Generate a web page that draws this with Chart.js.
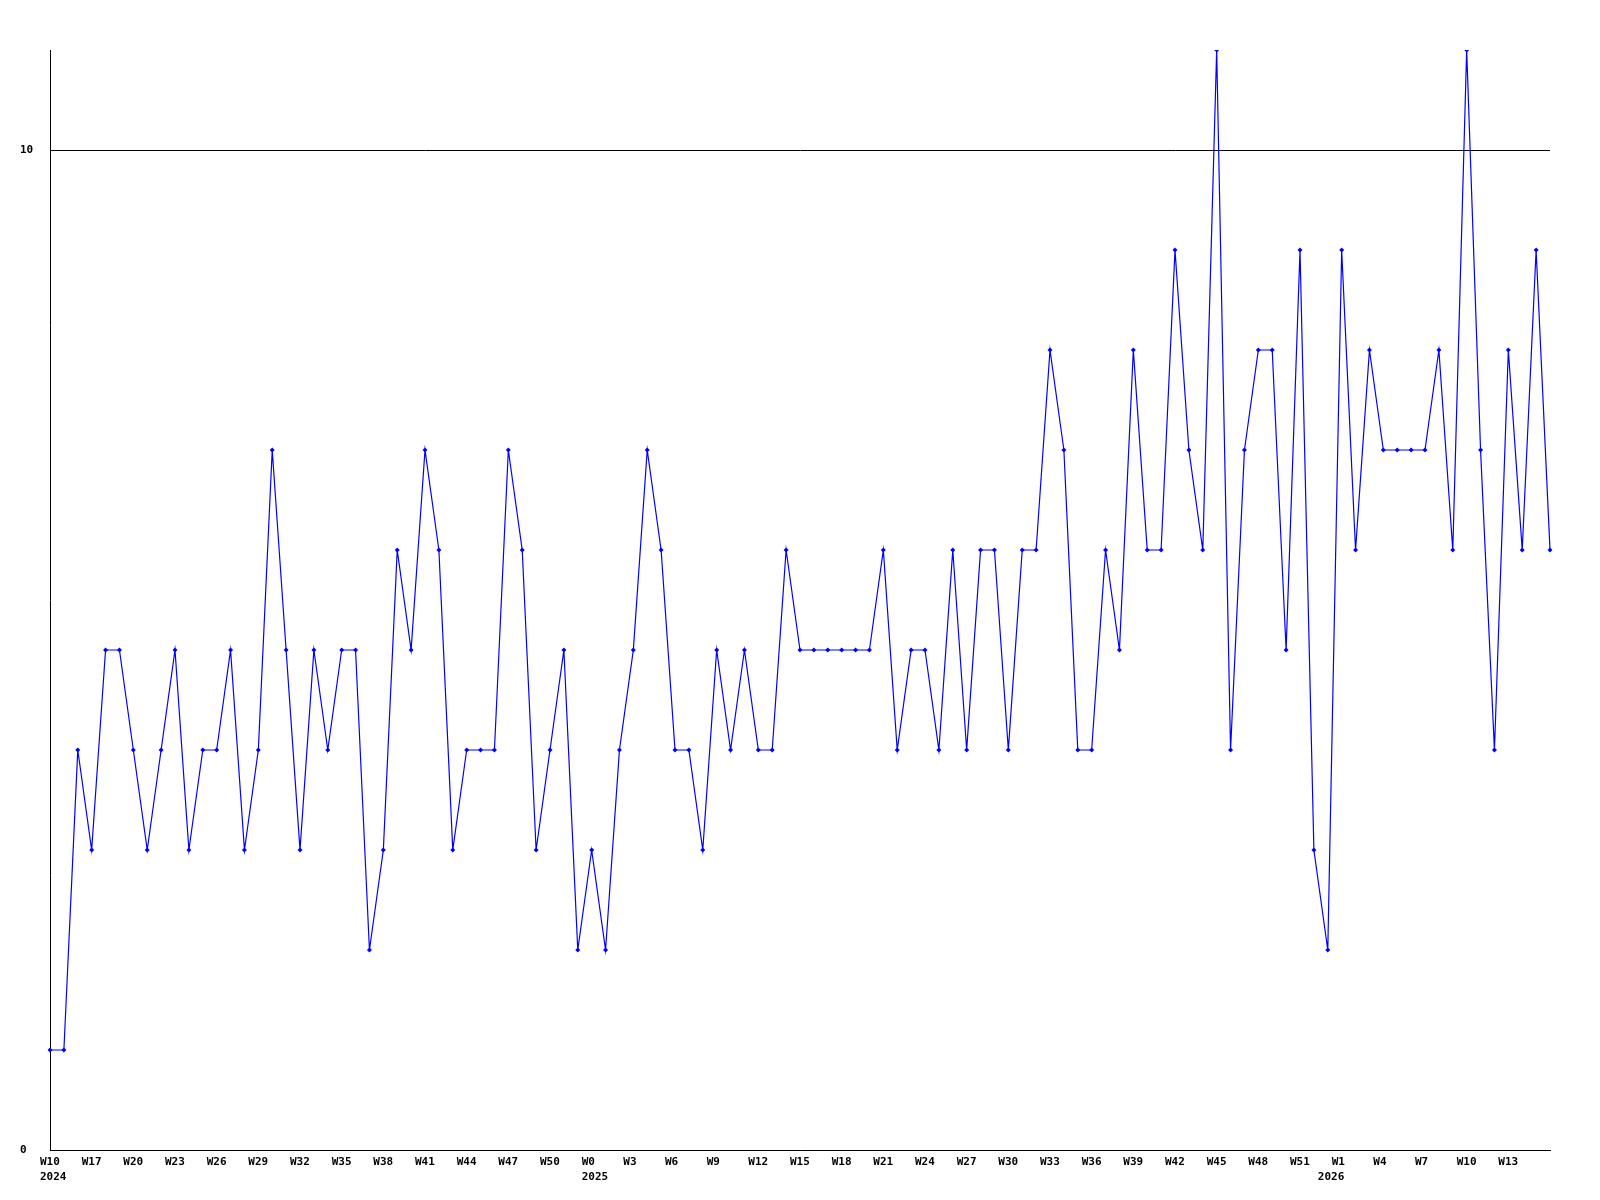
<!DOCTYPE html>
<html>
<head>
<meta charset="utf-8">
<script src="https://cdn.jsdelivr.net/npm/chart.js@4/dist/chart.umd.min.js"></script>
<style>
  html, body { margin: 0; padding: 0; background: #ffffff; }
  #wrap { width: 1600px; height: 1200px; }
</style>
</head>
<body>
<div id="wrap"><canvas id="c" width="1600" height="1200"></canvas></div>
<script>
// Series values, one per week
const values = [
  1,1,4,3,5,5,4,3,4,5,
  3,4,4,5,3,4,7,5,3,5,
  4,5,5,2,3,6,5,7,6,3,
  4,4,4,7,6,3,4,5,2,3,
  2,4,5,7,6,4,4,3,5,4,
  5,4,4,6,5,5,5,5,5,5,
  6,4,5,5,4,6,4,6,6,4,
  6,6,8,7,4,4,6,5,8,6,
  6,9,7,6,11,4,7,8,8,5,
  9,3,2,9,6,8,7,7,7,7,
  8,6,11,7,4,8,6,9,6
];

// Week tick labels and the point index they sit on
const weekTickIndex = [0,3,6,9,12,15,18,21,24,27,30,33,36,39,42,45,48,51,54,57,60,63,66,69,72,75,78,81,84,87,90,93,96,99,102,105];
const weekTickText = ["W10","W17","W20","W23","W26","W29","W32","W35","W38","W41","W44","W47","W50",
  "W0","W3","W6","W9","W12","W15","W18","W21","W24","W27","W30","W33","W36","W39","W42","W45","W48","W51",
  "W1","W4","W7","W10","W13"];

// Year labels and the point index they sit on
const yearTickIndex = [0, 39, 92];
const yearTickText = ["2024", "2025", "2026"];

// Y axis ticks shown
const yTickValues = [0, 10];
const yMin = 0, yMax = 11;

// Build category labels from the arrays above
const labels = values.map((v, i) => {
  const wi = weekTickIndex.indexOf(i);
  const yi = yearTickIndex.indexOf(i);
  const w = wi >= 0 ? weekTickText[wi] : "";
  if (yi >= 0) return [w, yearTickText[yi]];
  return w;
});

const FONT = { family: "'DejaVu Sans Mono', monospace", size: 11, weight: 'bold', lineHeight: 1.4 };

new Chart(document.getElementById('c'), {
  type: 'line',
  data: {
    labels: labels,
    datasets: [{
      data: values,
      borderColor: '#0000ff',
      backgroundColor: '#0000ff',
      borderWidth: 1.2,
      tension: 0,
      fill: false,
      pointStyle: 'rectRot',
      pointRadius: 2.5,
      pointBorderWidth: 0,
      pointBackgroundColor: '#0000ff',
      pointHoverRadius: 2.5
    }]
  },
  options: {
    responsive: false,
    animation: false,
    devicePixelRatio: 1,
    layout: { padding: { left: 20, right: 50, top: 50, bottom: 0 } },
    plugins: { legend: { display: false }, tooltip: { enabled: false }, title: { display: false } },
    scales: {
      x: {
        type: 'category',
        offset: false,
        grid: { display: false, drawTicks: false },
        border: { display: true, color: '#000000', width: 1 },
        ticks: {
          autoSkip: false,
          maxRotation: 0,
          minRotation: 0,
          align: 'start',
          labelOffset: -10,
          padding: 4,
          color: '#000000',
          font: FONT
        },
        afterFit: (s) => { s.height = 50; }
      },
      y: {
        min: yMin,
        max: yMax,
        afterBuildTicks: (s) => { s.ticks = yTickValues.map(v => ({ value: v })); },
        grid: {
          drawTicks: false,
          color: '#000000',
          lineWidth: 1
        },
        border: { display: true, color: '#000000', width: 1 },
        ticks: {
          crossAlign: 'far',
          padding: 0,
          color: '#000000',
          font: FONT,
          callback: (v) => String(v)
        },
        afterFit: (s) => { s.width = 30; }
      }
    }
  }
});
</script>
</body>
</html>
